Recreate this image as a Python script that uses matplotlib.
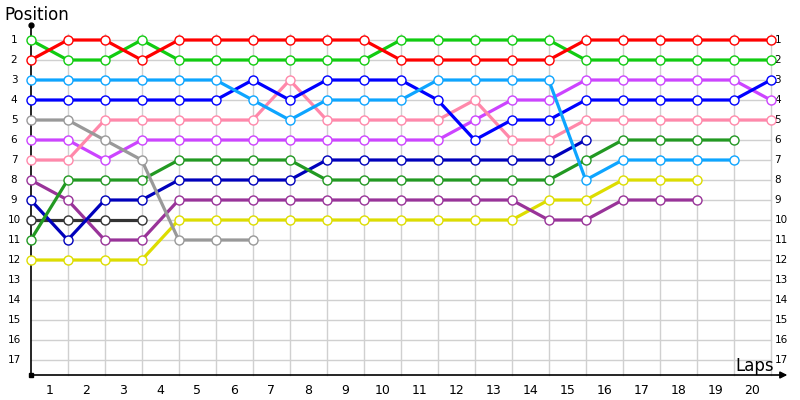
import matplotlib

matplotlib.use("Agg")
import matplotlib.pyplot as plt

# positions per lap, lap 0 = starting grid
red = [2, 1, 1, 2, 1, 1, 1, 1, 1, 1, 2, 2, 2, 2, 2, 1, 1, 1, 1, 1, 1]
green = [1, 2, 2, 1, 2, 2, 2, 2, 2, 2, 1, 1, 1, 1, 1, 2, 2, 2, 2, 2, 2]
light_blue = [3, 3, 3, 3, 3, 3, 4, 5, 4, 4, 4, 3, 3, 3, 3, 8, 7, 7, 7, 7]
blue = [4, 4, 4, 4, 4, 4, 3, 4, 3, 3, 3, 4, 6, 5, 5, 4, 4, 4, 4, 4, 3]
gray = [5, 5, 6, 7, 11, 11, 11]
pink = [7, 7, 5, 5, 5, 5, 5, 3, 5, 5, 5, 5, 4, 6, 6, 5, 5, 5, 5, 5, 5]
purple = [6, 6, 7, 6, 6, 6, 6, 6, 6, 6, 6, 6, 5, 4, 4, 3, 3, 3, 3, 3, 4]
dark_green = [11, 8, 8, 8, 7, 7, 7, 7, 8, 8, 8, 8, 8, 8, 8, 7, 6, 6, 6, 6]
dark_blue = [9, 11, 9, 9, 8, 8, 8, 8, 7, 7, 7, 7, 7, 7, 7, 6]
dark_magenta = [8, 9, 11, 11, 9, 9, 9, 9, 9, 9, 9, 9, 9, 9, 10, 10, 9, 9, 9]
black = [10, 10, 10, 10]
yellow = [12, 12, 12, 12, 10, 10, 10, 10, 10, 10, 10, 10, 10, 10, 9, 9, 8, 8, 8]

series = [
    (yellow, "#dddd00"),
    (black, "#333333"),
    (dark_magenta, "#993399"),
    (dark_blue, "#0000bb"),
    (dark_green, "#229922"),
    (purple, "#cc44ff"),
    (pink, "#ff88aa"),
    (gray, "#999999"),
    (blue, "#0000ff"),
    (light_blue, "#0ea5ff"),
    (green, "#11cc11"),
    (red, "#ff0000"),
]

n_laps = 20
n_pos = 17
positions = list(range(1, n_pos + 1))
laps = list(range(0, n_laps + 1))
lap_labels = [str(i) for i in range(1, n_laps + 1)]

GRID = "#d0d0d0"
INK = "#000000"

fig = plt.figure(figsize=(8, 4), dpi=100)
ax = fig.add_axes([0, 0, 1, 1])
ax.set_xlim(-30.7 / 37, (800 - 30.7) / 37)
ax.set_ylim(19, -1)
ax.axis("off")

# grid
for p in positions:
    ax.plot([0, n_laps], [p, p], color=GRID, lw=1, zorder=1)
for lap in laps[1:]:
    ax.plot([lap, lap], [0.7, 17.75], color=GRID, lw=1, zorder=1)

# axes
ax.plot([0, 0], [17.75, 0.25], color=INK, lw=1.2, zorder=5)
ax.plot([0], [0.25], marker="o", ms=3.5, color=INK, zorder=5)
ax.plot([0], [17.75], marker="s", ms=3, color=INK, zorder=5)
ax.annotate("", xy=(20.45, 17.75), xytext=(0, 17.75),
            arrowprops=dict(arrowstyle="-|>", color=INK, lw=1.2,
                            mutation_scale=10, shrinkA=0, shrinkB=0), zorder=5)

# labels
for p in positions:
    ax.text(-0.45, p, str(p), ha="center", va="center", fontsize=7.5, color=INK)
    ax.text(20.1, p, str(p), ha="left", va="center", fontsize=7.5, color=INK)
for i, lab in enumerate(lap_labels):
    ax.text(i + 0.5, 18.5, lab, ha="center", va="center", fontsize=9, color=INK)
ax.text(-0.7, -0.25, "Position", ha="left", va="center", fontsize=12, color=INK)
ax.text(20.08, 17.3, "Laps", ha="right", va="center", fontsize=12, color=INK)

# drivers
for z, (vals, color) in enumerate(series):
    ax.plot(range(len(vals)), vals, color=color, lw=2.3, marker="o", ms=6.5,
            mfc="white", mec=color, mew=1, zorder=10 + z)

fig.savefig("out.png", dpi=100)
